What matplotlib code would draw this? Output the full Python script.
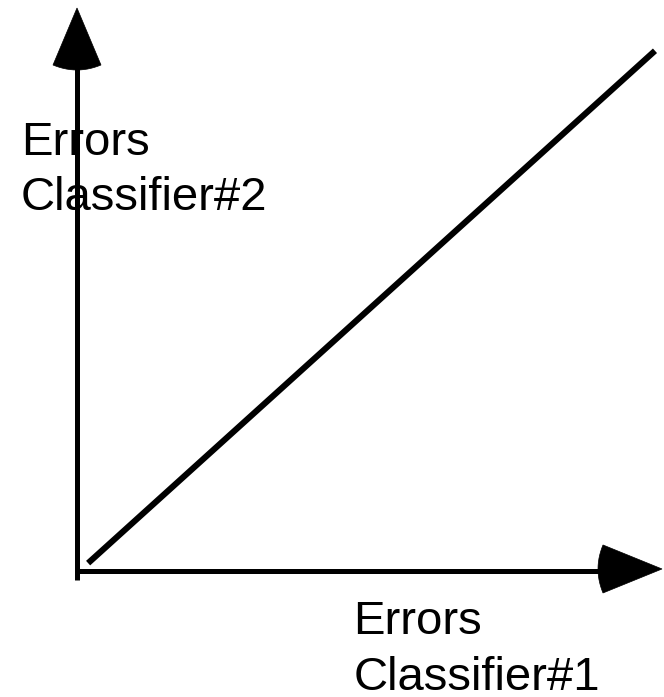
import numpy as np
import matplotlib
matplotlib.use("Agg")
import matplotlib.pyplot as plt
from matplotlib.patches import Polygon

plt.rcParams["font.family"] = ["Liberation Sans", "DejaVu Sans"]

# diagonal: errors of classifier #1 vs classifier #2 (axis units, 0..1)
errors_c1 = [0.019, 0.988]
errors_c2 = [0.014, 0.924]

x_label = ["Errors", "Classifier#1"]
y_label = ["Errors", "Classifier#2"]

W, H = 664, 697
fig = plt.figure(figsize=(W / 100, H / 100), dpi=100)
ax = fig.add_axes([0, 0, 1, 1])
# origin of the diagram sits at pixel (77, 571); arrow tips at 1.0
sx, sy = 585.0, 563.0
ax.set_xlim(-77 / sx, (W - 77) / sx)
ax.set_ylim(-(H - 571) / sy, 1 + 8 / sy)
ax.axis("off")

LW = 3.6


def arrow_head(ax, tip, direction, length, half, bulge):
    # triangle head with slightly rounded base
    t = np.linspace(-1, 1, 15)
    if direction == "up":
        bx = tip[0] + t * half
        by = tip[1] - length - bulge * (1 - t ** 2)
        pts = [(tip[0], tip[1])] + list(zip(bx[::-1], by[::-1]))
    else:
        by = tip[1] + t * half
        bx = tip[0] - length - bulge * (1 - t ** 2)
        pts = [(tip[0], tip[1])] + list(zip(bx, by))
    ax.add_patch(Polygon(pts, closed=True, facecolor="black",
                         edgecolor="black", lw=0.5, zorder=3))


# axes lines
ax.plot([0, 0], [-9 / sy, 0.90], color="black", lw=LW, solid_capstyle="butt")
ax.plot([0, 0.90], [0, 0], color="black", lw=LW, solid_capstyle="butt")
arrow_head(ax, (0, 1.0), "up", 57 / sy, 24 / sx, 5 / sy)
arrow_head(ax, (1.0, 0.0036), "right", 59 / sx, 24 / sy, 5 / sx)

# diagonal
ax.plot(errors_c1, errors_c2, color="black", lw=4.4, solid_capstyle="butt")

fs = 34
ax.text((21 - 77) / sx, (571 - 155) / sy, y_label[0], fontsize=fs,
        ha="left", va="baseline", zorder=1)
ax.text((21 - 77) / sx, (571 - 210) / sy, y_label[1], fontsize=fs,
        ha="left", va="baseline", zorder=1)
ax.text((353.5 - 77) / sx, -(634 - 571) / sy, x_label[0], fontsize=fs,
        ha="left", va="baseline")
ax.text((353.5 - 77) / sx, -(690 - 571) / sy, x_label[1], fontsize=fs,
        ha="left", va="baseline")

fig.savefig("out.png", dpi=100)
